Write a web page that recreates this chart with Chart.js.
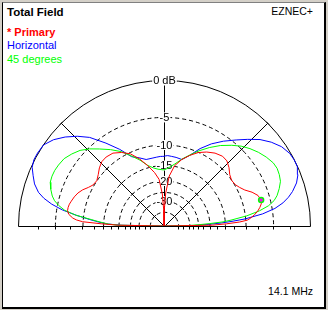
<!DOCTYPE html>
<html>
<head>
<meta charset="utf-8">
<script src="https://cdn.jsdelivr.net/npm/chart.js@4.4.0/dist/chart.umd.min.js"></script>
<style>
  body { margin: 0; width: 328px; height: 310px; background: #d4d0c8; overflow: hidden; font-family: "Liberation Sans", Arial, sans-serif; }
  #panel { position: absolute; left: 2px; top: 2px; width: 324px; height: 307px; box-sizing: border-box; background: #fff;
           border-left: 1px solid #000; border-top: 1px solid #808080; border-right: 2px solid #000; border-bottom: 2px solid #000; }
  .txt { position: absolute; font-size: 11px; line-height: 13px; white-space: nowrap; }
  #grafico { position: absolute; left: 0; top: 0; }
</style>
</head>
<body>
<div id="panel"></div>
<div class="txt" style="left:7px; top:6px; font-weight:bold; font-size:11.5px;">Total Field</div>
<div class="txt" style="left:7px; top:26px; font-weight:bold; color:#ff0000;">* Primary</div>
<div class="txt" style="left:7px; top:39px; color:#0000ff;">Horizontal</div>
<div class="txt" style="left:7px; top:53px; color:#00ff00;">45 degrees</div>
<div class="txt" style="right:15px; top:5px; font-size:10.5px;">EZNEC+</div>
<div class="txt" style="right:15px; top:285px; font-size:10.5px;">14.1 MHz</div>
<canvas id="grafico" width="328" height="310"></canvas>
<script>
// Ángulos de elevación (grados, 0 = horizonte derecho, 180 = horizonte izquierdo)
const angulos = [0, 1, 2, 3, 4, 5, 7, 9, 11, 13, 15, 18, 21, 24, 27, 30, 34, 38, 42, 46, 50, 55, 60, 65, 70, 75, 80, 84, 87, 89, 90,
  91, 93, 96, 100, 105, 110, 115, 120, 125, 130, 134, 138, 142, 146, 150, 153, 156, 159, 162, 165, 167, 169, 171, 173, 175, 176, 177, 178, 179, 180];

// Ganancia en dB de cada traza
const primario = [-99, -19, -14.5, -11.3, -9.6, -9.0, -8.1, -7.4, -6.9, -6.5, -6.4, -6.7, -7.5, -8.6, -9.3, -9.8, -10.0, -9.6, -8.8, -8.2, -8.1, -8.5, -9.2, -10.1, -11.4, -12.9, -14.9, -18.3, -25.5, -38, -99,
  -38, -26, -19.5, -17.0, -14.6, -12.3, -10.4, -9.3, -8.5, -8.3, -8.4, -8.9, -9.6, -10.1, -9.9, -9.3, -8.5, -7.9, -7.5, -7.2, -7.0, -6.9, -6.9, -7.2, -8.0, -8.7, -10.0, -14.5, -20, -99];
const horizontal = [-99, -27, -21, -16, -12.8, -10.0, -6.6, -4.5, -3.2, -2.3, -1.6, -0.8, -0.3, 0, 0, -0.1, -0.5, -1.2, -2.1, -3.3, -4.5, -5.9, -7.4, -9.2, -11.4, -12.9, -12.7, -12.6, -12.5, -12.6, -12.7,
  -12.7, -12.7, -12.8, -12.9, -12.9, -12.0, -11.1, -8.6, -6.3, -4.0, -2.7, -1.6, -0.7, -0.1, 0, 0, -0.2, -0.7, -1.2, -2.0, -2.9, -4.2, -6.0, -8.6, -11.5, -13.0, -14.5, -16.5, -21, -99];
const grados45 = [-99, -31, -25, -20, -15.5, -13.3, -9.6, -7.1, -5.4, -4.4, -3.8, -3.2, -2.7, -2.5, -2.4, -2.5, -2.9, -3.4, -4.0, -4.7, -5.6, -6.8, -8.2, -9.7, -11.3, -12.8, -14.4, -15.4, -16.0, -16.3, -16.4,
  -16.4, -16.3, -16.1, -15.6, -14.5, -12.6, -10.9, -9.1, -7.7, -6.4, -5.3, -4.4, -3.8, -3.3, -3.1, -3.0, -3.0, -3.1, -3.5, -4.0, -4.5, -5.3, -6.4, -8.5, -12.0, -13.5, -15.0, -16.5, -20, -99];

// Anillos de la rejilla (dB) y sus rótulos
const anillosDb = [-5, -10, -15, -20, -25, -30, -40];
const rotulosDb = [0, -5, -10, -15, -20, -30];
const rotulosTexto = ["0 dB", "-5", "-10", "-15", "-20", "-30"];
const marcasDb = [-2.5, -5, -7.5, -10, -12.5, -15, -17.5, -20, -22.5, -25, -27.5, -30, -35, -40];

// Escala logarítmica ARRL: cada 2 dB el radio es 0.89 del anterior
const radio = (db) => Math.pow(0.89, -db / 2);

const aPuntos = (valores) => valores.map((db, i) => {
  const a = angulos[i] * Math.PI / 180;
  const r = radio(db);
  return { x: r * Math.cos(a), y: r * Math.sin(a) };
});

// Marcador en el máximo de la traza primaria
const iMax = primario.indexOf(Math.max(...primario));

const rejilla = {
  id: "rejilla",
  beforeDatasetsDraw(chart) {
    const { ctx, scales: { x, y } } = chart;
    const cx = Math.round(x.getPixelForValue(0)) + 0.5;
    const cy = Math.round(y.getPixelForValue(0)) + 0.5;
    const R = x.getPixelForValue(1) - x.getPixelForValue(0);
    ctx.save();
    ctx.strokeStyle = "#000";
    ctx.lineWidth = 1;

    // anillos punteados
    ctx.setLineDash([4, 3]);
    anillosDb.forEach((db) => {
      ctx.beginPath();
      ctx.arc(cx, cy, R * radio(db), Math.PI, 2 * Math.PI);
      ctx.stroke();
    });
    ctx.setLineDash([]);

    // círculo exterior y línea base
    ctx.beginPath();
    ctx.arc(cx, cy, R, Math.PI, 2 * Math.PI);
    ctx.moveTo(cx - R, cy);
    ctx.lineTo(cx + R, cy);
    ctx.stroke();

    // marcas bajo la línea base
    ctx.beginPath();
    marcasDb.forEach((db) => {
      const r = Math.round(R * radio(db));
      [cx - r, cx + r].forEach((px) => {
        ctx.moveTo(px, cy);
        ctx.lineTo(px, cy + 3);
      });
    });
    ctx.stroke();

    // radiales a 45, 90 y 135 grados
    [45, 90, 135].forEach((g) => {
      const a = g * Math.PI / 180;
      ctx.beginPath();
      ctx.moveTo(cx, cy);
      ctx.lineTo(cx + R * Math.cos(a), cy - R * Math.sin(a));
      ctx.stroke();
      if (g === 90) return;
      ctx.beginPath();
      [0].concat(anillosDb).forEach((db) => {
        const r = R * radio(db);
        const px = cx + r * Math.cos(a), py = cy - r * Math.sin(a);
        const nx = Math.sin(a) * 2, ny = Math.cos(a) * 2;
        ctx.moveTo(px - nx, py - ny);
        ctx.lineTo(px + nx, py + ny);
      });
      ctx.stroke();
    });

    // rótulos con fondo blanco
    ctx.font = "11px 'Liberation Sans', Arial, sans-serif";
    ctx.textAlign = "center";
    ctx.textBaseline = "middle";
    rotulosDb.forEach((db, i) => {
      const py = cy - R * radio(db);
      const w = ctx.measureText(rotulosTexto[i]).width;
      ctx.fillStyle = "#fff";
      ctx.fillRect(cx - w / 2 - 1, py - 5, w + 2, 10);
      ctx.fillStyle = "#000";
      ctx.fillText(rotulosTexto[i], cx, py + 0.5);
    });
    ctx.restore();
  }
};

new Chart(document.getElementById("grafico"), {
  type: "scatter",
  data: {
    datasets: [
      {
        label: "Máximo",
        data: [aPuntos(primario)[iMax]],
        pointRadius: 2.5,
        pointBackgroundColor: "#ff00ff",
        pointBorderColor: "#00ff00",
        pointBorderWidth: 1.5,
      },
      { label: "Primary", data: aPuntos(primario), showLine: true, borderColor: "#ff0000", borderWidth: 1, pointRadius: 0 },
      { label: "45 degrees", data: aPuntos(grados45), showLine: true, borderColor: "#00ff00", borderWidth: 1, pointRadius: 0 },
      { label: "Horizontal", data: aPuntos(horizontal), showLine: true, borderColor: "#0000ff", borderWidth: 1, pointRadius: 0 },
    ],
  },
  options: {
    responsive: false,
    devicePixelRatio: 1,
    animation: false,
    events: [],
    layout: { padding: { left: 18, right: 18, top: 80, bottom: 84 } },
    scales: {
      x: { type: "linear", min: -1, max: 1, display: false },
      y: { type: "linear", min: 0, max: 1, display: false },
    },
    plugins: { legend: { display: false }, tooltip: { enabled: false } },
  },
  plugins: [rejilla],
});
</script>
</body>
</html>
